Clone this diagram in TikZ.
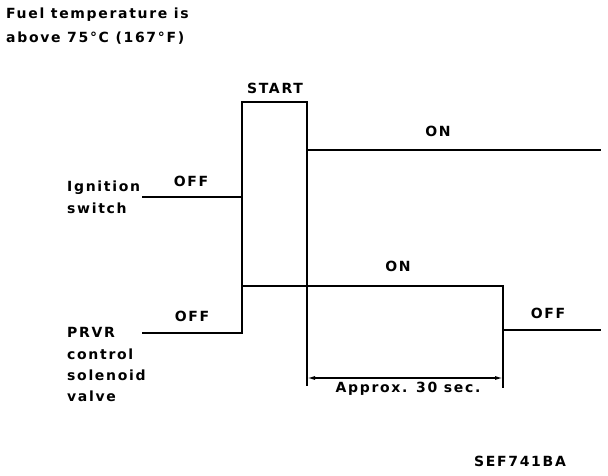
\documentclass[tikz,border=0pt]{standalone}
\usepackage{fontspec}
\setmainfont{DejaVu Sans}[LetterSpace=12]
\usetikzlibrary{arrows.meta}
\begin{document}
\begin{tikzpicture}[x=1pt,y=-1pt,
  lbl/.style={inner sep=0pt,font=\fontsize{14}{16}\selectfont\bfseries},
  wave/.style={line width=2.8pt,line join=miter,line cap=rect},
  thin/.style={line width=1.3pt},
  dim/.style={line width=1.3pt,{Latex[length=8pt,width=4pt]}-{Latex[length=8pt,width=4pt]}}]
\useasboundingbox (0,0) rectangle (608,476);
% titles
\node[lbl,anchor=base west] (t1) at (6,19) {Fuel temperature is};
\node[lbl,anchor=base west] (t2) at (6,43) {above 75°C (167°F)};
% left labels
\node[lbl,anchor=base west] (ig1) at (67,191) {Ignition};
\node[lbl,anchor=base west] (ig2) at (67,213) {switch};
\node[lbl,anchor=base west] (p1) at (67,337) {PRVR};
\node[lbl,anchor=base west] (p2) at (67,359) {control};
\node[lbl,anchor=base west] (p3) at (67,380) {solenoid};
\node[lbl,anchor=base west] (p4) at (67,401) {valve};
% state labels
\node[lbl,anchor=base] (start) at (275,94) {START};
\node[lbl,anchor=base] (on1) at (438,137) {ON};
\node[lbl,anchor=base] (off1) at (191,186) {OFF};
\node[lbl,anchor=base] (on2) at (398,271) {ON};
\node[lbl,anchor=base] (off2) at (192,321) {OFF};
\node[lbl,anchor=base] (off3) at (548,318) {OFF};
\node[lbl,anchor=base] (appr) at (408,392) {Approx. 30 sec.};
\node[lbl,anchor=base] (code) at (520,466) {SEF741BA};
% coordinates
\coordinate (a0) at (143,197);
\coordinate (a1) at (242,197);
\coordinate (a2) at (242,102);
\coordinate (a3) at (307,102);
\coordinate (a4) at (307,150);
\coordinate (a5) at (600,150);
\coordinate (b0) at (143,333);
\coordinate (b1) at (242,333);
\coordinate (b2) at (242,286);
\coordinate (b3) at (503,286);
\coordinate (b4) at (503,330);
\coordinate (b5) at (600,330);
\coordinate (e1) at (307,386);
\coordinate (e2) at (503,388);
\coordinate (d1) at (307,378);
\coordinate (d2) at (503,378);
% ignition switch waveform
\draw[wave] (a0) -- (a1);
\draw[wave] (b1) -- (a1) -- (a2) -- (a3) -- (a4) -- (a5);
% PRVR waveform
\draw[wave] (b0) -- (b1) -- (b2) -- (b3) -- (b4) -- (b5);
% extension lines
\draw[line width=2pt] (a4) -- (e1);
\draw[thin] (b4) -- (e2);
% dimension
\draw[dim] (d1) -- (d2);
\end{tikzpicture}
\end{document}
